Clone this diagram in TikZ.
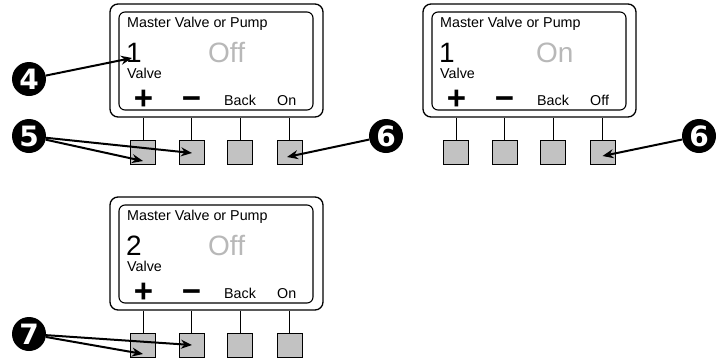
\documentclass[tikz,border=0pt]{standalone}
\usepackage{fontspec}
\setmainfont{Liberation Sans}
\newfontfamily\circfont{DejaVu Sans}
\usetikzlibrary{arrows.meta,calc}
\definecolor{btngray}{gray}{0.76}
\definecolor{stategray}{gray}{0.72}
\tikzset{
 outerbox/.style={draw, line width=1.3pt, rounded corners=8pt, inner sep=0pt},
 screenbox/.style={draw, line width=1.1pt, rounded corners=6pt, inner sep=0pt},
 btn/.style={draw, line width=0.9pt, fill=btngray, minimum width=25pt, minimum height=24pt, inner sep=0pt},
 stem/.style={line width=0.9pt},
 lbl/.style={inner sep=0pt, anchor=base west, font=\fontsize{14.3}{14.3}\selectfont},
 bignum/.style={inner sep=0pt, anchor=base west, font=\fontsize{28}{28}\selectfont},
 statelbl/.style={bignum, text=stategray},
 sym/.style={inner sep=0pt, anchor=base, font=\fontsize{33}{33}\selectfont\bfseries},
 callout/.style={circle, fill=black, text=white, minimum size=34pt, inner sep=0pt, font=\circfont\fontsize{28}{28}\selectfont\bfseries},
 pointer/.style={line width=2pt, -{Stealth[length=11pt,width=9pt]}},
}
\newcommand\ctrlpanel[7]{%
\begin{scope}[shift={(#2,#3)}]
\node[outerbox, minimum width=213pt, minimum height=113pt] (#1outer) at (216.5,60.5) {};
\node[screenbox, minimum width=194pt, minimum height=98pt] (#1screen) at (216,61) {};
\node[lbl] (#1title) at (127,27) {Master Valve or Pump};
\node[bignum] (#1num) at (126,62) {#4};
\node[statelbl] (#1state) at (#6,62) {#5};
\node[lbl] (#1valve) at (127,78) {Valve};
\node[sym] (#1plus) at (143.5,109) {+};
\node[sym] (#1minus) at (191.5,109) {−};
\node[lbl] (#1back) at (224,105) {Back};
\node[lbl] (#1right) at (277,105) {#7};
\foreach \i/\x in {1/143,2/191.5,3/240,4/289.5}{%
  \node[btn] (#1b\i) at (\x,152) {};
  \draw[stem] (#1b\i.north) -- (#1b\i.north |- #1outer.south);
}
\end{scope}}
\begin{document}
\begin{tikzpicture}[x=1pt,y=-1pt]
\useasboundingbox (0,0) rectangle (726,362);
\ctrlpanel{p1}{0}{0}{1}{Off}{208}{On}
\ctrlpanel{p2}{313}{0}{1}{On}{223}{Off}
\ctrlpanel{p3}{0}{193}{2}{Off}{208}{On}
\node[callout] (c4) at (29,79) {4};
\coordinate (t4) at (132,58);
\draw[pointer] (c4) -- (t4);
\node[callout] (c5) at (29,136) {5};
\draw[pointer] (c5) -- ($(p1b1.center)+(0,9)$);
\draw[pointer] (c5) -- ($(p1b2.center)+(0.5,1)$);
\node[callout] (c6a) at (386,136) {6};
\draw[pointer] (c6a) -- ($(p1b4.center)+(-2.5,5)$);
\node[callout] (c6b) at (699,136) {6};
\draw[pointer] (c6b) -- ($(p2b4.center)+(0,4)$);
\node[callout] (c7) at (29,334) {7};
\draw[pointer] (c7) -- ($(p3b1.center)+(0,9)$);
\draw[pointer] (c7) -- ($(p3b2.center)+(0.5,0)$);
\end{tikzpicture}
\end{document}
